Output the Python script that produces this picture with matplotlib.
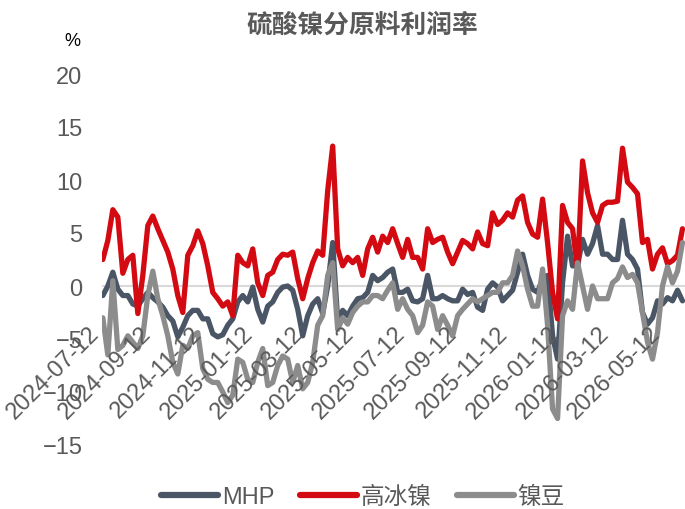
import numpy as np
import pandas as pd
import matplotlib
matplotlib.use("Agg")
import matplotlib.pyplot as plt
import matplotlib.transforms as mtransforms
from matplotlib.lines import Line2D

plt.rcParams["font.family"] = ["Liberation Sans", "Noto Sans CJK SC", "DejaVu Sans"]

# 硫酸镍分原料利润率 (%), sampled roughly every 6 days
dates = pd.date_range("2024-07-13", "2026-06-04", periods=117)

mhp = [
    -0.9, 0.0, 1.3, -0.3, -0.9, -0.9, -1.7, -1.9, -1.2, -0.6,
    -1.1, -1.5, -2.0, -2.8, -3.3, -4.8, -3.9, -2.8, -2.3, -2.3,
    -3.1, -3.1, -4.5, -4.8, -4.6, -3.7, -3.1, -1.5, -0.9, -1.5,
    -0.1, -2.2, -3.4, -1.9, -1.5, -0.6, -0.1, 0.0, -0.4, -2.2,
    -4.7, -2.8, -1.7, -1.2, -2.6, 0.0, 4.1, -3.3, -2.3, -2.8,
    -1.9, -1.2, -1.1, -0.6, 1.0, 0.5, 0.8, 1.3, 1.6,
    -0.6, -0.6, -0.3, -1.4, -1.5, -1.2, 1.0, -1.2, -1.2, -0.9,
    -1.2, -1.4, -1.4, -0.3, -0.8, -0.6, -2.0, -2.3, -0.3, 0.3,
    -0.1, -1.4, -0.9, -0.4, 1.3, 3.0, 1.0, -0.3, -0.6, 0.7,
    1.0, -4.7, -6.9, 0.3, 4.7, 1.9, 1.9, 4.4, 3.0, 4.0,
    5.7, 3.0, 3.0, 2.5, 2.5, 6.2, 3.0, 2.5, 1.6, -2.5,
    -3.6, -3.0, -1.4, -1.7, -1.1, -1.4, -0.4, -1.4,
]

high_matte = [
    2.5, 4.3, 7.2, 6.5, 1.2, 2.5, 2.9, -2.6, 1.0, 5.7,
    6.6, 5.4, 4.3, 3.2, 1.6, -0.9, -2.5, 2.9, 3.8, 5.2,
    4.0, 1.9, -0.6, -1.2, -1.9, -1.5, -2.8, 2.9, 2.2, 1.9,
    3.5, 0.3, -0.9, 1.0, 1.3, 2.5, 3.0, 2.9, 3.2, 0.7,
    -1.2, 0.7, 2.2, 3.3, 2.9, 9.0, 13.2, 3.5, 1.9, 2.7,
    2.2, 2.7, 1.0, 3.5, 4.6, 3.2, 4.7, 4.1, 5.4,
    4.0, 2.7, 4.4, 2.7, 2.7, 1.6, 5.4, 4.1, 4.4, 4.6,
    3.2, 2.1, 3.2, 4.3, 4.0, 3.5, 5.1, 4.0, 3.8, 6.9,
    5.8, 6.2, 6.9, 6.5, 8.1, 8.5, 6.0, 4.9, 4.6, 8.2,
    4.1, -0.6, -3.1, 7.6, 6.0, 5.4, 1.6, 11.8, 8.8, 6.9,
    6.0, 7.6, 7.9, 7.9, 8.0, 13.0, 9.8, 9.3, 8.7, 4.1,
    4.4, 1.6, 3.0, 3.6, 2.1, 2.4, 2.9, 5.4,
]

briquette = [
    -3.0, -6.5, 0.5, -6.0, -5.6, -4.7, -5.3, -5.9, -4.7, -0.9,
    1.4, -1.2, -2.8, -4.7, -7.2, -8.3, -5.6, -5.9, -4.7, -4.4,
    -7.8, -8.8, -9.1, -9.1, -10.0, -11.0, -10.3, -6.9, -7.2, -8.8,
    -9.1, -7.2, -5.9, -9.4, -9.1, -7.5, -6.6, -6.9, -9.1, -7.5,
    -9.7, -9.1, -7.2, -3.7, -2.8, 1.0, 2.2, -4.1, -3.0, -3.6,
    -2.5, -1.9, -1.5, -1.5, -0.9, -0.9, -1.2, -0.4, 0.3,
    -2.2, -1.2, -2.2, -2.8, -4.4, -3.7, -1.5, -1.9, -4.1, -2.8,
    -3.7, -4.7, -2.8, -2.2, -1.7, -1.2, -1.5, -1.2, -0.9, -0.6,
    -0.6, 0.3, 0.3, 1.0, 3.3, 1.9, -0.3, -1.9, -1.9, 1.6,
    -3.7, -11.6, -12.5, -2.8, -1.4, -2.2, 2.2, 0.0, -2.2, 0.0,
    -1.2, -1.2, -1.2, 0.3, 0.7, 1.8, 0.8, 1.1, 0.3, -2.5,
    -5.3, -6.9, -4.4, 0.0, 1.8, 0.3, 1.4, 4.1,
]

series_names = ["MHP", "高冰镍", "镍豆"]
series_colors = ["#4a5565", "#d40a12", "#8c8c8c"]
# axis labels every two months on the 12th
tick_dates = pd.date_range("2024-07-01", "2026-05-01", freq="2MS") + pd.Timedelta(days=11)

text_grey = "#595959"

fig = plt.figure(figsize=(6.85, 5.1), dpi=100)
ax = fig.add_axes([102 / 685, 64 / 510, 583 / 685, 371 / 510])

ax.axhline(0, color="#d9d9d9", lw=1.5, zorder=1)
for vals, name, col in zip([mhp, high_matte, briquette], series_names, series_colors):
    ax.plot(dates, vals, color=col, lw=3.8, label=name,
            solid_capstyle="round", solid_joinstyle="round", zorder=2)

ax.set_xlim(pd.Timestamp("2024-07-12"), pd.Timestamp("2026-06-07"))
ax.set_ylim(-15, 20)
ax.set_yticks(range(-15, 21, 5))
ax.tick_params(axis="y", length=0, pad=14, labelsize=17, labelcolor=text_grey)

for side in ["top", "right", "left", "bottom"]:
    ax.spines[side].set_visible(False)
ax.spines["bottom"].set_position(("data", 0))

ax.set_xticks(tick_dates)
ax.set_xticklabels([d.strftime("%Y-%m-%d") for d in tick_dates])
ax.tick_params(axis="x", length=0, pad=26, labelsize=17, labelcolor=text_grey)
shift = mtransforms.ScaledTranslation(1 / 72, 0, fig.dpi_scale_trans)
for lbl in ax.get_xticklabels():
    lbl.set_rotation(45)
    lbl.set_ha("right")
    lbl.set_va("top")
    lbl.set_transform(lbl.get_transform() + shift)
ax.set_axisbelow(False)

fig.text(362 / 685, 1 - 25 / 510, "硫酸镍分原料利润率", ha="center", va="center",
         fontsize=18.5, fontweight="bold", color=text_grey)
fig.text(72 / 685, 1 - 42 / 510, "%", ha="center", va="center",
         fontsize=13, color="black")

handles = [Line2D([0], [0], color=c, lw=4.5, solid_capstyle="round") for c in series_colors]
leg = fig.legend(handles, series_names, loc="center", ncol=3,
                 bbox_to_anchor=(363 / 685, 1 - 498 / 510), frameon=False,
                 fontsize=17, handlelength=2.4, handletextpad=0.15,
                 columnspacing=1.1, borderpad=0)
for t in leg.get_texts():
    t.set_color(text_grey)

fig.savefig("out.png", dpi=100)
